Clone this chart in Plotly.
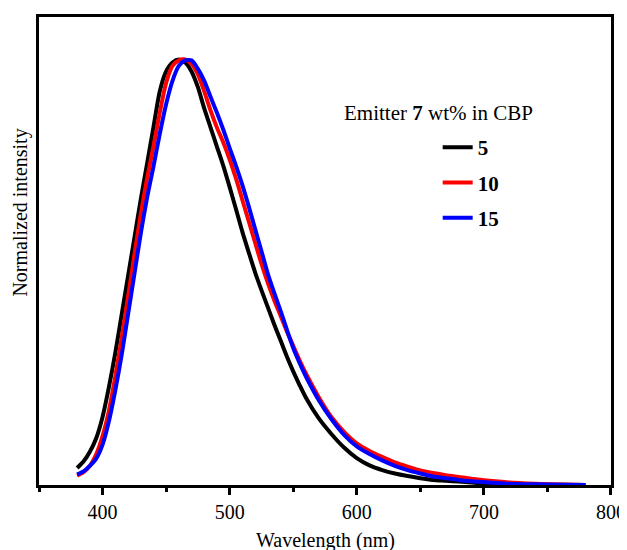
import plotly.graph_objects as go

wavelength = [380, 385, 390, 395, 400, 405, 410, 415, 420, 425, 430, 435, 440, 445, 450,
              455, 460, 465, 470, 475, 480, 485, 490, 495, 500, 505, 510, 515, 520, 525,
              530, 535, 540, 545, 550, 555, 560, 570, 580, 590, 600, 610, 620, 630, 640,
              650, 660, 670, 680, 690, 700, 720, 740, 760, 780]

int_5wt = [0.040, 0.055, 0.078, 0.110, 0.160, 0.230, 0.310, 0.400, 0.490, 0.580, 0.670,
           0.755, 0.840, 0.925, 0.972, 0.993, 1.000, 0.993, 0.972, 0.935, 0.885, 0.840,
           0.795, 0.750, 0.700, 0.648, 0.595, 0.547, 0.500, 0.458, 0.418, 0.378, 0.340,
           0.302, 0.267, 0.235, 0.205, 0.157, 0.120, 0.088, 0.063, 0.046, 0.035, 0.027,
           0.021, 0.016, 0.012, 0.010, 0.008, 0.006, 0.004, 0.002, 0.001, 0.0005, 0.0]

int_10wt = [0.022, 0.030, 0.045, 0.072, 0.115, 0.175, 0.255, 0.345, 0.440, 0.540, 0.635,
            0.720, 0.795, 0.875, 0.945, 0.985, 0.998, 1.000, 0.990, 0.965, 0.925, 0.880,
            0.840, 0.805, 0.765, 0.720, 0.670, 0.620, 0.570, 0.520, 0.475, 0.435, 0.398,
            0.361, 0.327, 0.293, 0.262, 0.207, 0.160, 0.125, 0.098, 0.080, 0.066, 0.053,
            0.043, 0.034, 0.028, 0.023, 0.019, 0.015, 0.011, 0.006, 0.003, 0.001, 0.0]

int_15wt = [0.025, 0.032, 0.045, 0.062, 0.095, 0.150, 0.222, 0.305, 0.400, 0.495, 0.590,
            0.675, 0.748, 0.825, 0.895, 0.950, 0.985, 0.998, 0.998, 0.978, 0.950, 0.912,
            0.875, 0.835, 0.792, 0.750, 0.705, 0.655, 0.602, 0.550, 0.497, 0.452, 0.410,
            0.365, 0.322, 0.287, 0.255, 0.200, 0.155, 0.118, 0.091, 0.073, 0.058, 0.045,
            0.035, 0.027, 0.020, 0.016, 0.012, 0.009, 0.007, 0.003, 0.0015, 0.0007, 0.0]

series_names = ["5", "10", "15"]
series_values = [int_5wt, int_10wt, int_15wt]
series_colors = ["#000000", "#ff0000", "#0000ff"]

x_tick_values = [400, 500, 600, 700, 800]
x_tick_labels = ["400", "500", "600", "700", "800"]
x_minor_values = [350, 450, 550, 650, 750]

FONT = "Liberation Serif, Times New Roman, serif"

fig = go.Figure()
for name, vals, col in zip(series_names, series_values, series_colors):
    fig.add_trace(go.Scatter(
        x=wavelength, y=vals, mode="lines", name=name, legendgroup=name,
        line=dict(color=col, width=4, shape="spline", smoothing=0.7),
    ))

# page body adds an 8px margin, so the figure is 8px smaller on each axis
fig.update_layout(
    width=619, height=542,
    margin=dict(l=31, r=16, t=9, b=65, autoexpand=False),
    paper_bgcolor="white", plot_bgcolor="white",
    font=dict(family=FONT, size=20, color="black"),
    showlegend=True,
    legend=dict(
        x=0.697, y=0.765, xanchor="left", yanchor="top",
        font=dict(family=FONT, size=21, color="black", weight="bold"),
        tracegroupgap=5, bgcolor="rgba(0,0,0,0)", borderwidth=0,
    ),
    xaxis=dict(
        range=[350, 800.01], showgrid=False, zeroline=False, automargin=False,
        showline=True, linecolor="black", linewidth=3, mirror=True,
        ticks="outside", ticklen=7, tickwidth=3, tickcolor="black",
        tickvals=x_tick_values, ticktext=x_tick_labels,
        ticklabeloverflow="allow",
        tickfont=dict(family=FONT, size=20, color="black"),
        minor=dict(ticks="outside", ticklen=4, tickwidth=3, tickcolor="black",
                   tickvals=x_minor_values),
    ),
    yaxis=dict(
        range=[0, 1.1], showgrid=False, zeroline=False, automargin=False,
        showline=True, linecolor="black", linewidth=3, mirror=True,
        showticklabels=False, ticks="",
    ),
    annotations=[
        dict(text="Wavelength (nm)", xref="paper", yref="paper", x=0.5, y=0,
             xanchor="center", yanchor="middle", yshift=-55, showarrow=False,
             font=dict(family=FONT, size=20, color="black")),
        dict(text="Normalized intensity", xref="paper", yref="paper", x=0, y=0.582,
             xanchor="center", yanchor="middle", xshift=-18, textangle=-90, showarrow=False,
             font=dict(family=FONT, size=20, color="black")),
        dict(text="Emitter <b>7</b> wt% in CBP", xref="paper", yref="paper",
             x=0.699, y=0.795, xanchor="center", yanchor="middle", showarrow=False,
             font=dict(family=FONT, size=21, color="black")),
    ],
)

fig.write_html("out.html")
